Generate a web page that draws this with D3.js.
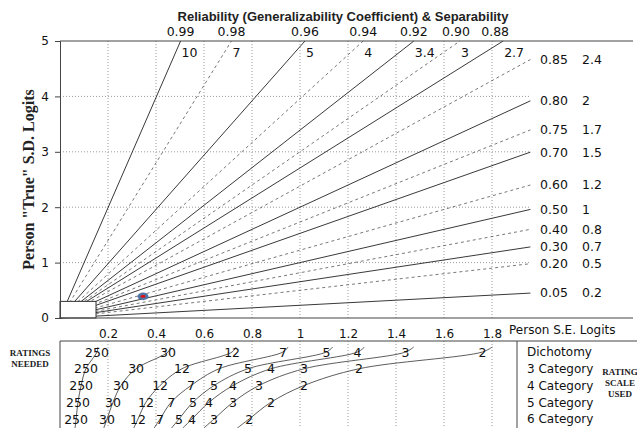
<!DOCTYPE html>
<html><head><meta charset="utf-8">
<script src="https://cdn.jsdelivr.net/npm/d3@7"></script>
<style>body{margin:0;background:#fff}svg{display:block}</style>
</head><body><svg id="c" width="637" height="428"></svg>
<script>
const xTicks = [0.2,0.4,0.6,0.8,1,1.2,1.4,1.6,1.8];
const yTicks = [0,1,2,3,4,5];
const reliability = ["0.99","0.98","0.96","0.94","0.92","0.90","0.88","0.85","0.80","0.75","0.70","0.60","0.50","0.40","0.30","0.20","0.05"];
const sepLabels = ["10","7","5","4","3.4","3","2.7","2.4","2","1.7","1.5","1.2","1","0.8","0.7","0.5","0.2"];
const marker = {se:0.346, sd:0.39};
const rowNames = ["Dichotomy","3 Category","4 Category","5 Category","6 Category"];
const ratingsN = ["250","30","12","7","5","4","3","2"];
const seDichotomy = [0.154,0.450,0.717,0.929,1.110,1.240,1.440,1.760];
const seCat3 = [0.108,0.317,0.508,0.663,0.783,0.879,1.017,1.246];
const seCat4 = [0.088,0.254,0.417,0.546,0.642,0.721,0.829,1.017];
const seCat5 = [0.075,0.221,0.358,0.463,0.554,0.621,0.721,0.879];
const seCat6 = [0.067,0.196,0.325,0.417,0.496,0.550,0.642,0.788];
const seRows = [seDichotomy, seCat3, seCat4, seCat5, seCat6];

const svg = d3.select("#c");
const x = d3.scaleLinear().domain([0, 2.3]).range([60, 60 + 2.3*240]);
const y = d3.scaleLinear().domain([0, 5]).range([318, 41]);
const xEnd = 1.96;
const F = "DejaVu Sans, sans-serif";
const grid = "#9a9a9a";

// gridlines
svg.append("g").selectAll("line").data(xTicks).join("line")
  .attr("x1", d=>x(d)).attr("x2", d=>x(d)).attr("y1", y(5)).attr("y2", y(0))
  .attr("stroke", grid).attr("stroke-width", 1).attr("stroke-dasharray", "1,2");
svg.append("g").selectAll("line").data(yTicks.filter(d=>d>0&&d<5)).join("line")
  .attr("x1", x(0)).attr("x2", x(xEnd)).attr("y1", d=>y(d)).attr("y2", d=>y(d))
  .attr("stroke", grid).attr("stroke-width", 1).attr("stroke-dasharray", "1,2");

// reliability lines: true SD = SE * sqrt(R/(1-R))
const lines = reliability.map((r,i)=>{
  const R = +r, g = Math.sqrt(R/(1-R));
  return {g, i, xe: Math.min(xEnd, 5/g)};
});
svg.append("g").selectAll("line").data(lines).join("line")
  .attr("x1", x(0)).attr("y1", y(0))
  .attr("x2", d=>x(d.xe)).attr("y2", d=>y(d.g*d.xe))
  .attr("stroke", d=>d.i%2===0 ? "#222" : "#555")
  .attr("stroke-width", d=>d.i%2===0 ? 0.9 : 0.8)
  .attr("stroke-dasharray", d=>d.i%2===0 ? null : "3,3");

// box near origin
svg.append("rect").attr("x", x(0)).attr("y", y(0.3))
  .attr("width", x(0.15)-x(0)).attr("height", y(0)-y(0.3))
  .attr("fill", "#fff").attr("stroke", "#333").attr("stroke-width", 1);

// marker
svg.append("ellipse").attr("cx", x(marker.se)).attr("cy", y(marker.sd))
  .attr("rx", 5.5).attr("ry", 3.8).attr("fill", "#4f74a6");
svg.append("ellipse").attr("cx", x(marker.se)).attr("cy", y(marker.sd))
  .attr("rx", 2.6).attr("ry", 1.4).attr("fill", "#e01010");

// axes frame
svg.append("line").attr("x1", x(0)).attr("x2", 633).attr("y1", y(5)).attr("y2", y(5)).attr("stroke","#444");
svg.append("line").attr("x1", x(0)).attr("x2", 633).attr("y1", y(0)).attr("y2", y(0)).attr("stroke","#444");

const yAxis = d3.axisLeft(y).tickValues(yTicks).tickSize(5).tickPadding(6).tickFormat(d3.format("d"));
const ga = svg.append("g").attr("transform", `translate(${x(0)},0)`).call(yAxis);
ga.select(".domain").attr("stroke","#444");
ga.selectAll(".tick line").attr("stroke","#444");
ga.selectAll("text").attr("font-family", F).attr("font-size", 12).attr("fill","#111");

const xAxis = d3.axisBottom(x).tickValues(xTicks).tickSize(0).tickPadding(11).tickFormat(d=>String(d));
const gx = svg.append("g").attr("transform", `translate(0,${y(0)})`).call(xAxis);
gx.select(".domain").remove();
gx.selectAll("text").attr("font-family", F).attr("font-size", 12).attr("fill","#111");
svg.append("text").attr("x", x(1.8)+17).attr("y", 334).attr("font-family", F).attr("font-size", 12)
  .attr("fill","#111").text("Person S.E. Logits");

// titles
svg.append("text").attr("x", 343).attr("y", 21).attr("text-anchor","middle")
  .attr("font-family","Liberation Sans, Arial, sans-serif").attr("font-weight","bold").attr("font-size", 13)
  .attr("fill","#222").text("Reliability (Generalizability Coefficient) & Separability");
svg.append("text").attr("transform", `translate(34,${(y(0)+y(5))/2}) rotate(-90)`).attr("text-anchor","middle")
  .attr("font-family","Liberation Serif, Times New Roman, serif").attr("font-weight","bold").attr("font-size", 16)
  .attr("fill","#222").text('Person "True" S.D. Logits');

// top labels
const topL = lines.filter(d=>d.xe < xEnd);
svg.append("g").selectAll("text").data(topL).join("text")
  .attr("x", d=>x(d.xe) - (d.i>=5 ? (d.i-4)*4 : 0)).attr("y", 36).attr("text-anchor","middle")
  .attr("font-family", F).attr("font-size", 12.5).attr("fill","#111")
  .text(d=>reliability[d.i]);
svg.append("g").selectAll("text").data(topL).join("text")
  .attr("x", d=>x(d.xe)+1).attr("y", 57)
  .attr("font-family", F).attr("font-size", 12.5).attr("fill","#111")
  .text(d=>sepLabels[d.i]);

// right labels
const rightL = lines.filter(d=>d.xe >= xEnd);
svg.append("g").selectAll("text").data(rightL).join("text")
  .attr("x", 540).attr("y", d=>y(d.g*d.xe)).attr("dy","0.35em")
  .attr("font-family", F).attr("font-size", 12.5).attr("fill","#111")
  .text(d=>reliability[d.i]);
svg.append("g").selectAll("text").data(rightL).join("text")
  .attr("x", 582).attr("y", d=>y(d.g*d.xe)).attr("dy","0.35em")
  .attr("font-family", F).attr("font-size", 12.5).attr("fill","#111")
  .text(d=>sepLabels[d.i]);

// bottom panel
const pTop = 341, pBot = 428, divX = 517;
const rowY = d3.scalePoint().domain(rowNames).range([352, 419]);
svg.append("g").selectAll("line").data(xTicks).join("line")
  .attr("x1", d=>x(d)).attr("x2", d=>x(d)).attr("y1", pTop).attr("y2", pBot)
  .attr("stroke", grid).attr("stroke-width", 1).attr("stroke-dasharray", "1,2");
svg.append("line").attr("x1", x(0)).attr("x2", 637).attr("y1", pTop).attr("y2", pTop).attr("stroke","#444");
svg.append("line").attr("x1", x(0)).attr("x2", x(0)).attr("y1", pTop).attr("y2", pBot).attr("stroke","#444");
svg.append("line").attr("x1", divX).attr("x2", divX).attr("y1", pTop).attr("y2", pBot).attr("stroke","#444");

// curves per N
const lineGen = d3.line().curve(d3.curveCatmullRom.alpha(0.5));
ratingsN.forEach((n, j) => {
  const pts = rowNames.map((r, i) => [x(seRows[i][j]), rowY(r)]).reverse();
  const p0 = pts[0], p1 = pts[1];
  const ext = [p0[0] + (p0[0]-p1[0])*0.55, p0[1] + (p0[1]-p1[1])*0.55];
  const pn = pts[pts.length-1], pm = pts[pts.length-2];
  const extT = [pn[0] + (pn[0]-pm[0])*0.08, pn[1] + (pn[1]-pm[1])*0.3];
  svg.append("path").attr("d", lineGen([ext, ...pts, extT]))
    .attr("fill","none").attr("stroke","#333").attr("stroke-width", 0.8);
});
rowNames.forEach((r, i) => {
  svg.append("g").selectAll("text").data(ratingsN).join("text")
    .attr("x", (d,j)=>x(seRows[i][j])).attr("y", rowY(r)).attr("dy","0.36em")
    .attr("text-anchor","middle").attr("font-family", F).attr("font-size", 12.5).attr("fill","#111")
    .text(d=>d);
});
svg.append("g").selectAll("text").data(rowNames).join("text")
  .attr("x", 527).attr("y", d=>rowY(d)).attr("dy","0.36em")
  .attr("font-family", F).attr("font-size", 12).attr("fill","#111").text(d=>d);

const SF = "Liberation Serif, Times New Roman, serif";
svg.append("g").selectAll("text").data(["RATINGS","NEEDED"]).join("text")
  .attr("x", 30).attr("y", (d,i)=>356+i*11).attr("text-anchor","middle")
  .attr("font-family", SF).attr("font-weight","bold").attr("font-size", 9).attr("fill","#222").text(d=>d);
svg.append("g").selectAll("text").data(["RATING","SCALE","USED"]).join("text")
  .attr("x", 620).attr("y", (d,i)=>375+i*11).attr("text-anchor","middle")
  .attr("font-family", SF).attr("font-weight","bold").attr("font-size", 9).attr("fill","#222").text(d=>d);
</script></body></html>
